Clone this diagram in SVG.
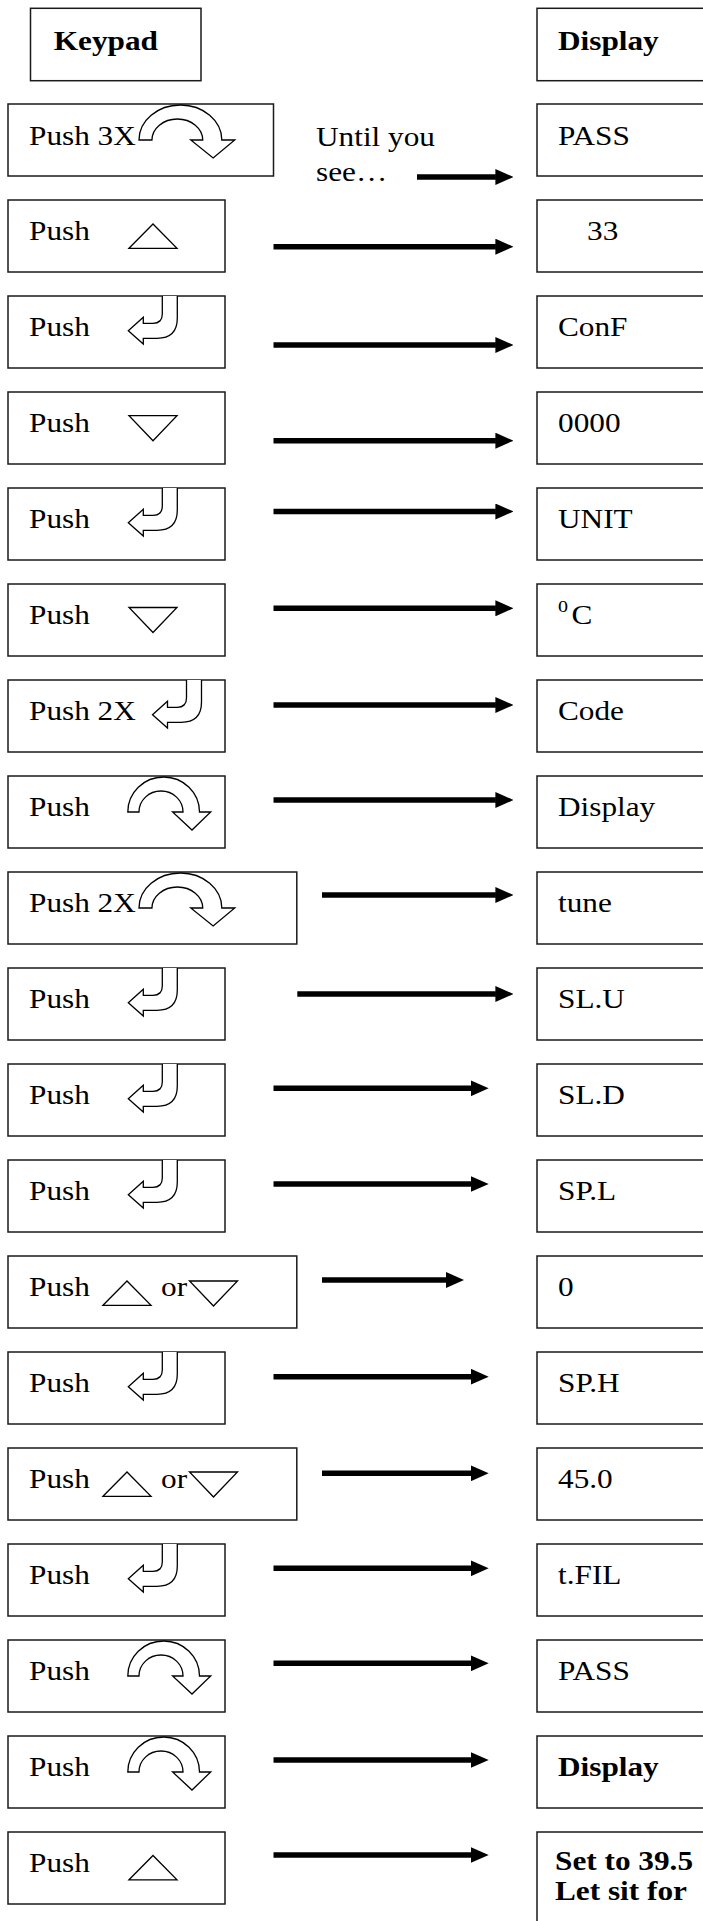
<svg xmlns="http://www.w3.org/2000/svg" xmlns:xlink="http://www.w3.org/1999/xlink" width="703" height="1921" viewBox="0 0 703 1921">
<style>
.box{fill:#fff;stroke:#1a1a1a;stroke-width:1.5}
.ico{fill:#fff;stroke:#000;stroke-width:1.3;stroke-linejoin:miter}
.t{font-family:"Liberation Serif","Times New Roman",serif;font-size:26.5px;fill:#000}
.b{font-weight:bold}
.sup{font-family:"Liberation Serif","Times New Roman",serif;font-size:17px;fill:#000}
.arr{stroke:#000;stroke-width:5.5;fill:none}
</style>
<defs>
<marker id="ah" markerUnits="userSpaceOnUse" markerWidth="18" markerHeight="16" viewBox="0 0 18 16" refX="0.5" refY="8" orient="auto">
<path d="M0,0 L18,8 L0,16 Z" fill="#000"/>
</marker>
<path id="enter" class="ico" d="M34,0 V18 Q34,27.3 24.7,27.3 H15 V21.3 L0,34.8 L15,48 V42.3 H28.7 Q49,42.3 49,22 V0"/>
<path id="circ" class="ico" vector-effect="non-scaling-stroke" d="M0,36 A35.85,35 0 0 1 71.7,36 H82.9 L64.2,54 L44.8,36 H55.2 A22,21 0 0 0 11.2,36 Z"/>
<path id="up" class="ico" d="M0,24.3 L24,0 L48,24.3 Z"/>
<path id="down" class="ico" d="M0,0 L48,0 L24,25 Z"/>
</defs>

<g id="header-keypad">
<rect class="box" x="30.5" y="8.3" width="170.5" height="72.4"/>
<text class="t b" transform="translate(53.8 50) scale(1.18 1)">Keypad</text>
</g>
<g id="header-display">
<rect class="box" x="537" y="8.3" width="200" height="72.4"/>
<text class="t b" transform="translate(558 50) scale(1.18 1)">Display</text>
</g>

<g id="note">
<text class="t" transform="translate(316 146) scale(1.18 1)">Until you</text>
<text class="t" transform="translate(316 181) scale(1.18 1)">see…</text>
</g>

<!-- Row 1 -->
<g id="key1"><rect class="box" x="8" y="104" width="265.5" height="72"/>
<text class="t" transform="translate(29 144.5) scale(1.18 1)">Push 3X</text>
<use xlink:href="#circ" transform="translate(139 104) scale(1.155 1)"/></g>
<g id="disp1"><rect class="box" x="537" y="104" width="200" height="72"/>
<text class="t" transform="translate(558 144.5) scale(1.18 1)">PASS</text></g>

<!-- Row 2 -->
<g id="key2"><rect class="box" x="8" y="200" width="217" height="72"/>
<text class="t" transform="translate(29 239.5) scale(1.18 1)">Push</text>
<use xlink:href="#up" x="129" y="224"/></g>
<g id="disp2"><rect class="box" x="537" y="200" width="200" height="72"/>
<text class="t" transform="translate(587 239.5) scale(1.18 1)">33</text></g>

<!-- Row 3 -->
<g id="key3"><rect class="box" x="8" y="296" width="217" height="72"/>
<text class="t" transform="translate(29 335.5) scale(1.18 1)">Push</text>
<use xlink:href="#enter" x="128.3" y="296"/></g>
<g id="disp3"><rect class="box" x="537" y="296" width="200" height="72"/>
<text class="t" transform="translate(558 335.5) scale(1.18 1)">ConF</text></g>

<!-- Row 4 -->
<g id="key4"><rect class="box" x="8" y="392" width="217" height="72"/>
<text class="t" transform="translate(29 431.5) scale(1.18 1)">Push</text>
<use xlink:href="#down" x="129" y="415.7"/></g>
<g id="disp4"><rect class="box" x="537" y="392" width="200" height="72"/>
<text class="t" transform="translate(558 431.5) scale(1.18 1)">0000</text></g>

<!-- Row 5 -->
<g id="key5"><rect class="box" x="8" y="488" width="217" height="72"/>
<text class="t" transform="translate(29 527.5) scale(1.18 1)">Push</text>
<use xlink:href="#enter" x="128.3" y="488"/></g>
<g id="disp5"><rect class="box" x="537" y="488" width="200" height="72"/>
<text class="t" transform="translate(558 527.5) scale(1.18 1)">UNIT</text></g>

<!-- Row 6 -->
<g id="key6"><rect class="box" x="8" y="584" width="217" height="72"/>
<text class="t" transform="translate(29 623.5) scale(1.18 1)">Push</text>
<use xlink:href="#down" x="129" y="607.5"/></g>
<g id="disp6"><rect class="box" x="537" y="584" width="200" height="72"/>
<text class="sup" transform="translate(558 611.5) scale(1.18 1)">0</text>
<text class="t" transform="translate(571.5 624) scale(1.18 1)">C</text></g>

<!-- Row 7 -->
<g id="key7"><rect class="box" x="8" y="680" width="217" height="72"/>
<text class="t" transform="translate(29 719.5) scale(1.18 1)">Push 2X</text>
<use xlink:href="#enter" x="152.5" y="680"/></g>
<g id="disp7"><rect class="box" x="537" y="680" width="200" height="72"/>
<text class="t" transform="translate(558 719.5) scale(1.18 1)">Code</text></g>

<!-- Row 8 -->
<g id="key8"><rect class="box" x="8" y="776" width="217" height="72"/>
<text class="t" transform="translate(29 815.5) scale(1.18 1)">Push</text>
<use xlink:href="#circ" transform="translate(127.8 776)"/></g>
<g id="disp8"><rect class="box" x="537" y="776" width="200" height="72"/>
<text class="t" transform="translate(558 815.5) scale(1.18 1)">Display</text></g>

<!-- Row 9 -->
<g id="key9"><rect class="box" x="8" y="872" width="288.8" height="72"/>
<text class="t" transform="translate(29 911.5) scale(1.18 1)">Push 2X</text>
<use xlink:href="#circ" transform="translate(139 872) scale(1.155 1)"/></g>
<g id="disp9"><rect class="box" x="537" y="872" width="200" height="72"/>
<text class="t" transform="translate(558 911.5) scale(1.18 1)">tune</text></g>

<!-- Row 10 -->
<g id="key10"><rect class="box" x="8" y="968" width="217" height="72"/>
<text class="t" transform="translate(29 1007.5) scale(1.18 1)">Push</text>
<use xlink:href="#enter" x="128.3" y="968"/></g>
<g id="disp10"><rect class="box" x="537" y="968" width="200" height="72"/>
<text class="t" transform="translate(558 1007.5) scale(1.18 1)">SL.U</text></g>

<!-- Row 11 -->
<g id="key11"><rect class="box" x="8" y="1064" width="217" height="72"/>
<text class="t" transform="translate(29 1103.5) scale(1.18 1)">Push</text>
<use xlink:href="#enter" x="128.3" y="1064"/></g>
<g id="disp11"><rect class="box" x="537" y="1064" width="200" height="72"/>
<text class="t" transform="translate(558 1103.5) scale(1.18 1)">SL.D</text></g>

<!-- Row 12 -->
<g id="key12"><rect class="box" x="8" y="1160" width="217" height="72"/>
<text class="t" transform="translate(29 1199.5) scale(1.18 1)">Push</text>
<use xlink:href="#enter" x="128.3" y="1160"/></g>
<g id="disp12"><rect class="box" x="537" y="1160" width="200" height="72"/>
<text class="t" transform="translate(558 1199.5) scale(1.18 1)">SP.L</text></g>

<!-- Row 13 -->
<g id="key13"><rect class="box" x="8" y="1256" width="288.8" height="72"/>
<text class="t" transform="translate(29 1295.5) scale(1.18 1)">Push</text>
<use xlink:href="#up" x="103" y="1281"/>
<text class="t" transform="translate(161 1295.5) scale(1.18 1)">or</text>
<use xlink:href="#down" x="189.5" y="1281"/></g>
<g id="disp13"><rect class="box" x="537" y="1256" width="200" height="72"/>
<text class="t" transform="translate(558 1295.5) scale(1.18 1)">0</text></g>

<!-- Row 14 -->
<g id="key14"><rect class="box" x="8" y="1352" width="217" height="72"/>
<text class="t" transform="translate(29 1391.5) scale(1.18 1)">Push</text>
<use xlink:href="#enter" x="128.3" y="1352"/></g>
<g id="disp14"><rect class="box" x="537" y="1352" width="200" height="72"/>
<text class="t" transform="translate(558 1391.5) scale(1.18 1)">SP.H</text></g>

<!-- Row 15 -->
<g id="key15"><rect class="box" x="8" y="1448" width="288.8" height="72"/>
<text class="t" transform="translate(29 1487.5) scale(1.18 1)">Push</text>
<use xlink:href="#up" x="103" y="1472"/>
<text class="t" transform="translate(161 1487.5) scale(1.18 1)">or</text>
<use xlink:href="#down" x="189.5" y="1472"/></g>
<g id="disp15"><rect class="box" x="537" y="1448" width="200" height="72"/>
<text class="t" transform="translate(558 1487.5) scale(1.18 1)">45.0</text></g>

<!-- Row 16 -->
<g id="key16"><rect class="box" x="8" y="1544" width="217" height="72"/>
<text class="t" transform="translate(29 1583.5) scale(1.18 1)">Push</text>
<use xlink:href="#enter" x="128.3" y="1544"/></g>
<g id="disp16"><rect class="box" x="537" y="1544" width="200" height="72"/>
<text class="t" transform="translate(558 1583.5) scale(1.18 1)">t.FIL</text></g>

<!-- Row 17 -->
<g id="key17"><rect class="box" x="8" y="1640" width="217" height="72"/>
<text class="t" transform="translate(29 1679.5) scale(1.18 1)">Push</text>
<use xlink:href="#circ" transform="translate(127.8 1640)"/></g>
<g id="disp17"><rect class="box" x="537" y="1640" width="200" height="72"/>
<text class="t" transform="translate(558 1679.5) scale(1.18 1)">PASS</text></g>

<!-- Row 18 -->
<g id="key18"><rect class="box" x="8" y="1736" width="217" height="72"/>
<text class="t" transform="translate(29 1775.5) scale(1.18 1)">Push</text>
<use xlink:href="#circ" transform="translate(127.8 1736)"/></g>
<g id="disp18"><rect class="box" x="537" y="1736" width="200" height="72"/>
<text class="t b" transform="translate(558 1775.5) scale(1.18 1)">Display</text></g>

<!-- Row 19 -->
<g id="key19"><rect class="box" x="8" y="1832" width="217" height="72"/>
<text class="t" transform="translate(29 1871.5) scale(1.18 1)">Push</text>
<use xlink:href="#up" x="129" y="1855.5"/></g>
<g id="disp19"><rect class="box" x="537" y="1832" width="200" height="120"/>
<text class="t b" transform="translate(555 1870) scale(1.18 1)">Set to 39.5</text>
<text class="t b" transform="translate(555 1900) scale(1.18 1)">Let sit for</text></g>

<g id="connectors">
<line class="arr" x1="417" y1="177" x2="495.9" y2="177" marker-end="url(#ah)"/>
<line class="arr" x1="273.5" y1="246.7" x2="495.9" y2="246.7" marker-end="url(#ah)"/>
<line class="arr" x1="273.5" y1="345" x2="495.9" y2="345" marker-end="url(#ah)"/>
<line class="arr" x1="273.5" y1="440.7" x2="495.9" y2="440.7" marker-end="url(#ah)"/>
<line class="arr" x1="273.5" y1="511.5" x2="495.9" y2="511.5" marker-end="url(#ah)"/>
<line class="arr" x1="273.5" y1="608.3" x2="495.9" y2="608.3" marker-end="url(#ah)"/>
<line class="arr" x1="273.5" y1="705" x2="495.9" y2="705" marker-end="url(#ah)"/>
<line class="arr" x1="273.5" y1="800" x2="495.9" y2="800" marker-end="url(#ah)"/>
<line class="arr" x1="322" y1="895" x2="495.9" y2="895" marker-end="url(#ah)"/>
<line class="arr" x1="297.3" y1="994" x2="495.9" y2="994" marker-end="url(#ah)"/>
<line class="arr" x1="273.5" y1="1088.3" x2="471.2" y2="1088.3" marker-end="url(#ah)"/>
<line class="arr" x1="273.5" y1="1184" x2="471.2" y2="1184" marker-end="url(#ah)"/>
<line class="arr" x1="322" y1="1280" x2="446.5" y2="1280" marker-end="url(#ah)"/>
<line class="arr" x1="273.5" y1="1376.7" x2="471.2" y2="1376.7" marker-end="url(#ah)"/>
<line class="arr" x1="322" y1="1473.3" x2="471.2" y2="1473.3" marker-end="url(#ah)"/>
<line class="arr" x1="273.5" y1="1568.3" x2="471.2" y2="1568.3" marker-end="url(#ah)"/>
<line class="arr" x1="273.5" y1="1663.3" x2="471.2" y2="1663.3" marker-end="url(#ah)"/>
<line class="arr" x1="273.5" y1="1760" x2="471.2" y2="1760" marker-end="url(#ah)"/>
<line class="arr" x1="273.5" y1="1855" x2="471.2" y2="1855" marker-end="url(#ah)"/>
</g>
</svg>
